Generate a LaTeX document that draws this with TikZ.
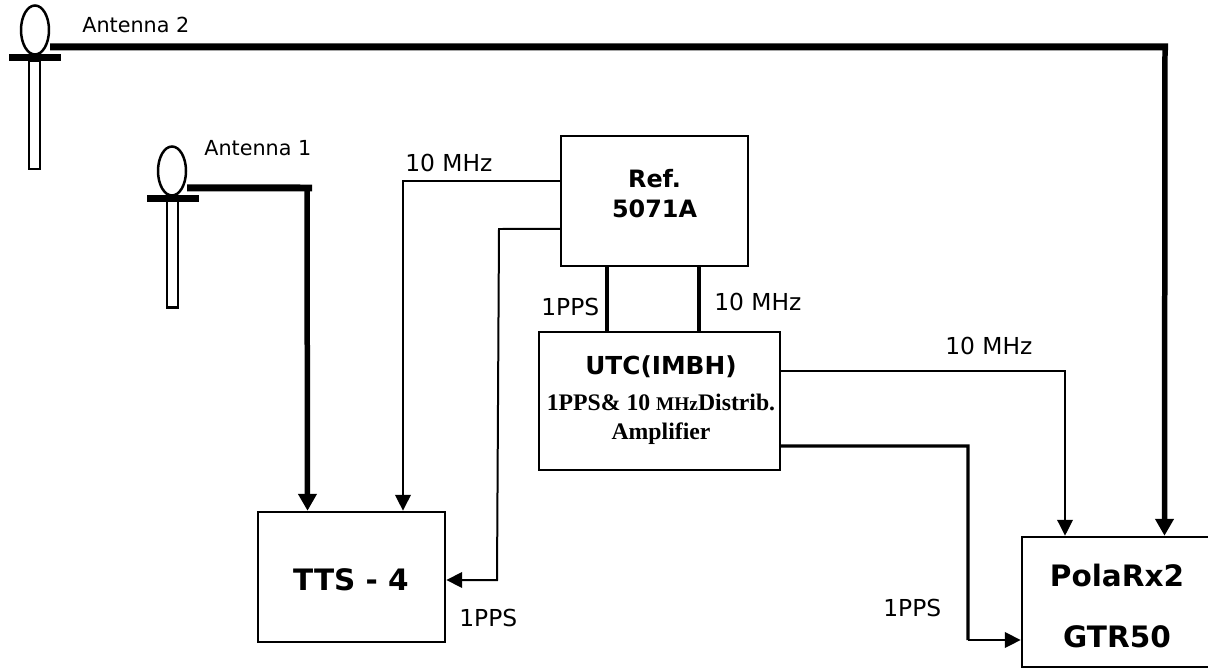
\documentclass[tikz,border=0pt]{standalone}
\usepackage{fontspec}
\usepackage{tikz}
\usetikzlibrary{arrows.meta, shapes.geometric}
\setmainfont{DejaVu Sans}
\newfontfamily\ampfont{Liberation Serif}

\tikzset{
  unit/.style={draw, line width=0.05cm, inner sep=0pt},
  title/.style={inner sep=0pt, align=center, font=\fontsize{13.6}{17}\selectfont\bfseries},
  big/.style={inner sep=0pt, font=\fontsize{16.8}{20}\selectfont\bfseries},
  sig/.style={font=\fontsize{13.3}{15}\selectfont, inner sep=0pt},
  antlabel/.style={font=\fontsize{11.8}{14}\selectfont, inner sep=0pt},
  feed/.style={draw, line width=0.05cm, ellipse, inner sep=0pt, minimum width=0.56cm, minimum height=0.98cm},
  bar/.style={fill, inner sep=0pt, minimum width=1.04cm, minimum height=0.14cm},
  mast/.style={draw, line width=0.05cm, inner sep=0pt, minimum width=0.22cm, minimum height=2.16cm},
  wire/.style={line width=0.04cm},
  mid/.style={line width=0.065cm},
  link/.style={line width=0.14cm},
  drop/.style={line width=0.11cm},
  tip/.style={-{Triangle[length=0.32cm,width=0.31cm]}},
  bigtip/.style={-{Triangle[length=0.34cm,width=0.36cm]}}
}

\begin{document}
\begin{tikzpicture}[x=0.02cm, y=-0.02cm]
  \useasboundingbox (0,0) rectangle (1208,669);

  % antennas
  \node[feed] (feedtwo) at (35,30) {};
  \node[bar] (bartwo) at (35,57.5) {};
  \node[mast] (masttwo) at (34.5,115) {};
  \node[antlabel, anchor=west] (anttwo) at (82,25) {Antenna 2};
  \node[feed] (feedone) at (172,171) {};
  \node[bar] (barone) at (173,198.5) {};
  \node[mast] (mastone) at (172.5,253.5) {};
  \node[antlabel, anchor=west] (antone) at (204,148) {Antenna 1};

  % units
  \node[unit, minimum width=3.74cm, minimum height=2.6cm] (ref) at (654.5,201) {};
  \node[title] (reftext) at (654.5,194) {Ref.\\5071A};
  \node[unit, minimum width=4.82cm, minimum height=2.76cm] (utc) at (659.5,401) {};
  \node[title, font=\fontsize{14.1}{17}\selectfont\bfseries] (utctext) at (661,367) {UTC(IMBH)};
  \node[font=\ampfont\fontsize{13.5}{16.5}\selectfont\bfseries, inner sep=0pt, align=center] (amptext) at (661,419)
    {1PPS\& 10 {\fontsize{11}{11}\selectfont MHz}Distrib.\\Amplifier};
  \node[unit, minimum width=3.74cm, minimum height=2.6cm] (tts) at (351.5,577) {};
  \node[big] (ttstext) at (351,580) {TTS - 4};
  \node[unit, minimum width=3.8cm, minimum height=2.6cm] (pola) at (1117,602) {};
  \node[big] (polatext) at (1117,575) {PolaRx2};
  \node[big] (gtrtext) at (1117,637) {GTR50};

  % antenna feeds
  \coordinate (bendone) at (312,188);
  \coordinate (bendtwo) at (1168,47);
  \draw[link] ([yshift=-0.34cm]feedone.east) -- (bendone);
  \draw[drop, bigtip] ([xshift=-0.1cm]bendone) -- ([xshift=-0.88cm]tts.north);
  \draw[link] ([yshift=-0.34cm]feedtwo.east) -- (bendtwo);
  \draw[drop, bigtip] ([xshift=-0.06cm]bendtwo) -- ([xshift=0.95cm]pola.north);

  % reference outputs
  \draw[wire, tip] ([yshift=0.4cm]ref.west) -| ([xshift=1.03cm]tts.north);
  \coordinate (ppstop) at (499,229);
  \coordinate (ppsbot) at (497,580);
  \draw[wire, tip] ([yshift=-0.56cm]ref.west) -- (ppstop) -- (ppsbot) -- ([yshift=-0.06cm]tts.east);
  \draw[mid] ([xshift=-0.95cm]ref.south) -- ([xshift=-0.95cm]ref.south |- utc.north);
  \draw[mid] ([xshift=0.89cm]ref.south) -- ([xshift=0.89cm]ref.south |- utc.north);

  % distribution outputs
  \draw[wire, tip] ([yshift=0.6cm]utc.east) -| ([xshift=-1.04cm]pola.north);
  \coordinate (distbend) at (968,446);
  \coordinate (distfoot) at (968,640);
  \draw[mid] ([yshift=-0.9cm]utc.east) -- (distbend) -- (distfoot);
  \draw[wire, tip] (distfoot) -- (pola.west |- distfoot);

  % signal labels
  \node[sig, anchor=west] (lblrefa) at (405,163) {10 MHz};
  \node[sig, anchor=west] (lblrefb) at (541,307) {1PPS};
  \node[sig, anchor=west] (lblrefc) at (714,302) {10 MHz};
  \node[sig, anchor=west] (lbldista) at (945,346) {10 MHz};
  \node[sig, anchor=west] (lblttspps) at (459,618) {1PPS};
  \node[sig, anchor=west] (lbldistb) at (883,608) {1PPS};
\end{tikzpicture}
\end{document}
